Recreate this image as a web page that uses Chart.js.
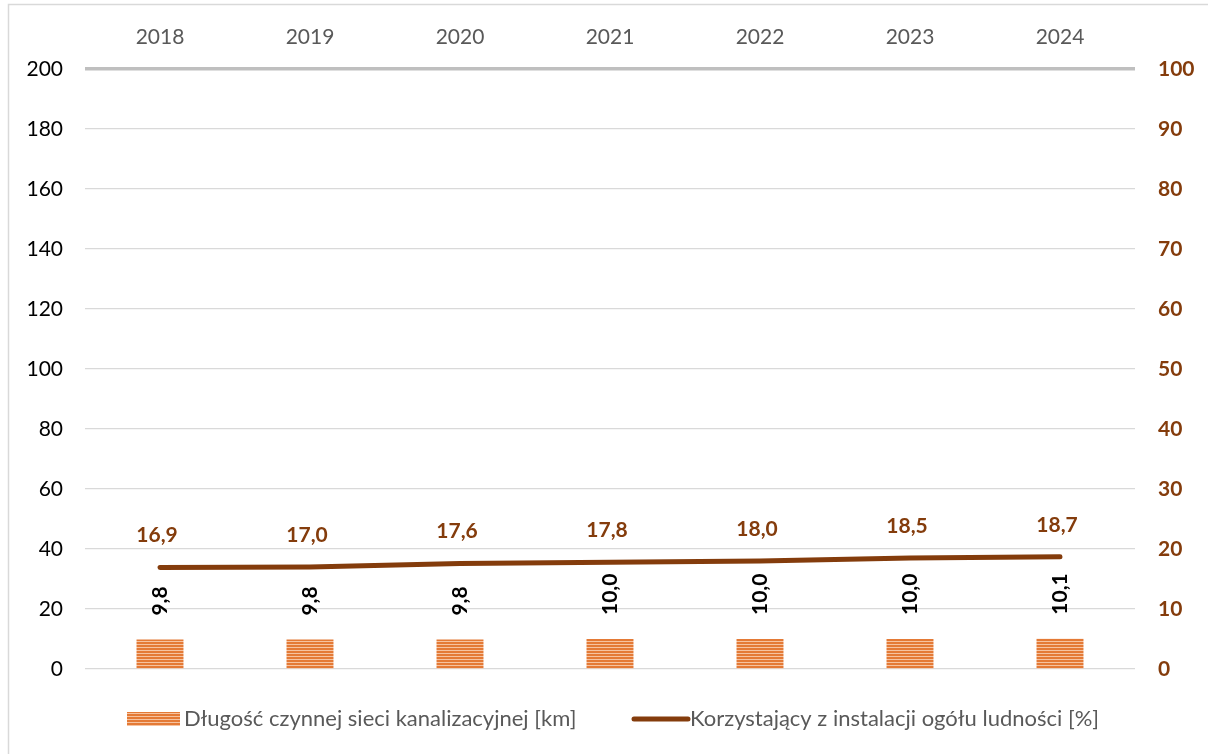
<!DOCTYPE html>
<html><head><meta charset="utf-8">
<script src="https://cdn.jsdelivr.net/npm/chart.js@4/dist/chart.umd.min.js"></script>
<style>html,body{margin:0;padding:0;background:#fff}#wrap{width:1208px;height:754px;position:relative}</style>
</head><body><div id="wrap"><canvas id="c" width="1208" height="754"></canvas></div>
<script>
const categories = ['2018','2019','2020','2021','2022','2023','2024'];
const networkKm = [9.8, 9.8, 9.8, 10.0, 10.0, 10.0, 10.1];
const usersPct = [16.9, 17.0, 17.6, 17.8, 18.0, 18.5, 18.7];
const leftTicks = [0,20,40,60,80,100,120,140,160,180,200];
const rightTicks = [0,10,20,30,40,50,60,70,80,90,100];
const seriesNames = ['Długość czynnej sieci kanalizacyjnej [km]', 'Korzystający z instalacji ogółu ludności [%]'];

const FONT = 'Lato, "Open Sans", sans-serif';
const BROWN = '#843C0C';

function makePattern(){
  const p = document.createElement('canvas');
  p.width = 4; p.height = 3;
  const g = p.getContext('2d');
  g.fillStyle = '#E47A36'; g.fillRect(0,0,4,2);
  g.fillStyle = '#F6C3A0'; g.fillRect(0,2,4,1);
  return document.getElementById('c').getContext('2d').createPattern(p,'repeat');
}
const pat = makePattern();

const fmt = v => v.toFixed(1).replace('.', ',');

const labelsPlugin = {
  id: 'labelsPlugin',
  beforeDraw(chart){
    const ctx = chart.ctx;
    ctx.save();
    ctx.strokeStyle = '#D9D9D9'; ctx.lineWidth = 1.5;
    ctx.beginPath(); ctx.moveTo(8.5, 760); ctx.lineTo(8.5, 4.5); ctx.lineTo(1210, 4.5); ctx.stroke();
    ctx.restore();
  },
  afterDatasetsDraw(chart){
    const ctx = chart.ctx;
    ctx.save();
    // bar labels
    const m0 = chart.getDatasetMeta(0);
    ctx.fillStyle = '#000';
    ctx.font = 'bold 21px ' + FONT;
    ctx.textAlign = 'left'; ctx.textBaseline = 'middle';
    m0.data.forEach((el,i)=>{
      ctx.save();
      ctx.translate(el.x, el.y - 24);
      ctx.rotate(-Math.PI/2);
      ctx.fillText(fmt(networkKm[i]), 0, 0);
      ctx.restore();
    });
    // line labels
    const m1 = chart.getDatasetMeta(1);
    ctx.fillStyle = BROWN;
    ctx.font = 'bold 21px ' + FONT;
    ctx.textAlign = 'center'; ctx.textBaseline = 'middle';
    m1.data.forEach((el,i)=>{
      ctx.fillText(fmt(usersPct[i]), el.x - 3, el.y - 32);
    });
    // legend
    const ly = 719;
    ctx.fillStyle = pat;
    ctx.fillRect(127, ly-7, 53, 14);
    ctx.fillStyle = '#595959';
    ctx.font = '22px ' + FONT;
    ctx.textAlign = 'left'; ctx.textBaseline = 'middle';
    ctx.fillText(seriesNames[0], 184, ly);
    ctx.strokeStyle = BROWN; ctx.lineWidth = 5; ctx.lineCap = 'round';
    ctx.beginPath(); ctx.moveTo(634, ly); ctx.lineTo(688, ly); ctx.stroke();
    ctx.fillText(seriesNames[1], 690, ly);
    ctx.restore();
  }
};

new Chart(document.getElementById('c'), {
  data: {
    labels: categories,
    datasets: [
      { type:'bar', label: seriesNames[0], data: networkKm, backgroundColor: pat, yAxisID:'y', categoryPercentage:1, barPercentage:0.313, order:2 },
      { type:'line', label: seriesNames[1], data: usersPct, borderColor: BROWN, borderWidth:5, pointRadius:0, borderCapStyle:'round', tension:0, yAxisID:'y1', order:1 }
    ]
  },
  options: {
    responsive:false, animation:false,
    layout:{ padding:{ left:10, right:0, top:0, bottom:85 } },
    plugins:{ legend:{display:false}, tooltip:{enabled:false} },
    scales:{
      x:{ position:'top', offset:true,
        grid:{ display:false, drawTicks:false },
        border:{ display:false },
        ticks:{ color:'#595959', font:{ family:FONT, size:21 }, padding:19 },
        afterFit(s){ s.height = 69; }
      },
      y:{ position:'left', min:0, max:200,
        afterBuildTicks(s){ s.ticks = leftTicks.map(v=>({value:v})); },
        grid:{ color: ctx => ctx.tick && ctx.tick.value===200 ? '#BFBFBF' : '#D9D9D9', lineWidth: ctx => ctx.tick && ctx.tick.value===200 ? 3.5 : 1.2, drawTicks:false },
        border:{ display:false },
        ticks:{ color:'#000', font:{ family:FONT, size:21 }, padding:22 },
        afterFit(s){ s.width = 75; }
      },
      y1:{ position:'right', min:0, max:100,
        afterBuildTicks(s){ s.ticks = rightTicks.map(v=>({value:v})); },
        grid:{ display:false, drawTicks:false },
        border:{ display:false },
        ticks:{ color:BROWN, font:{ family:FONT, size:21, weight:'bold' }, padding:23 },
        afterFit(s){ s.width = 73; }
      }
    }
  },
  plugins:[labelsPlugin]
});
</script></body></html>
